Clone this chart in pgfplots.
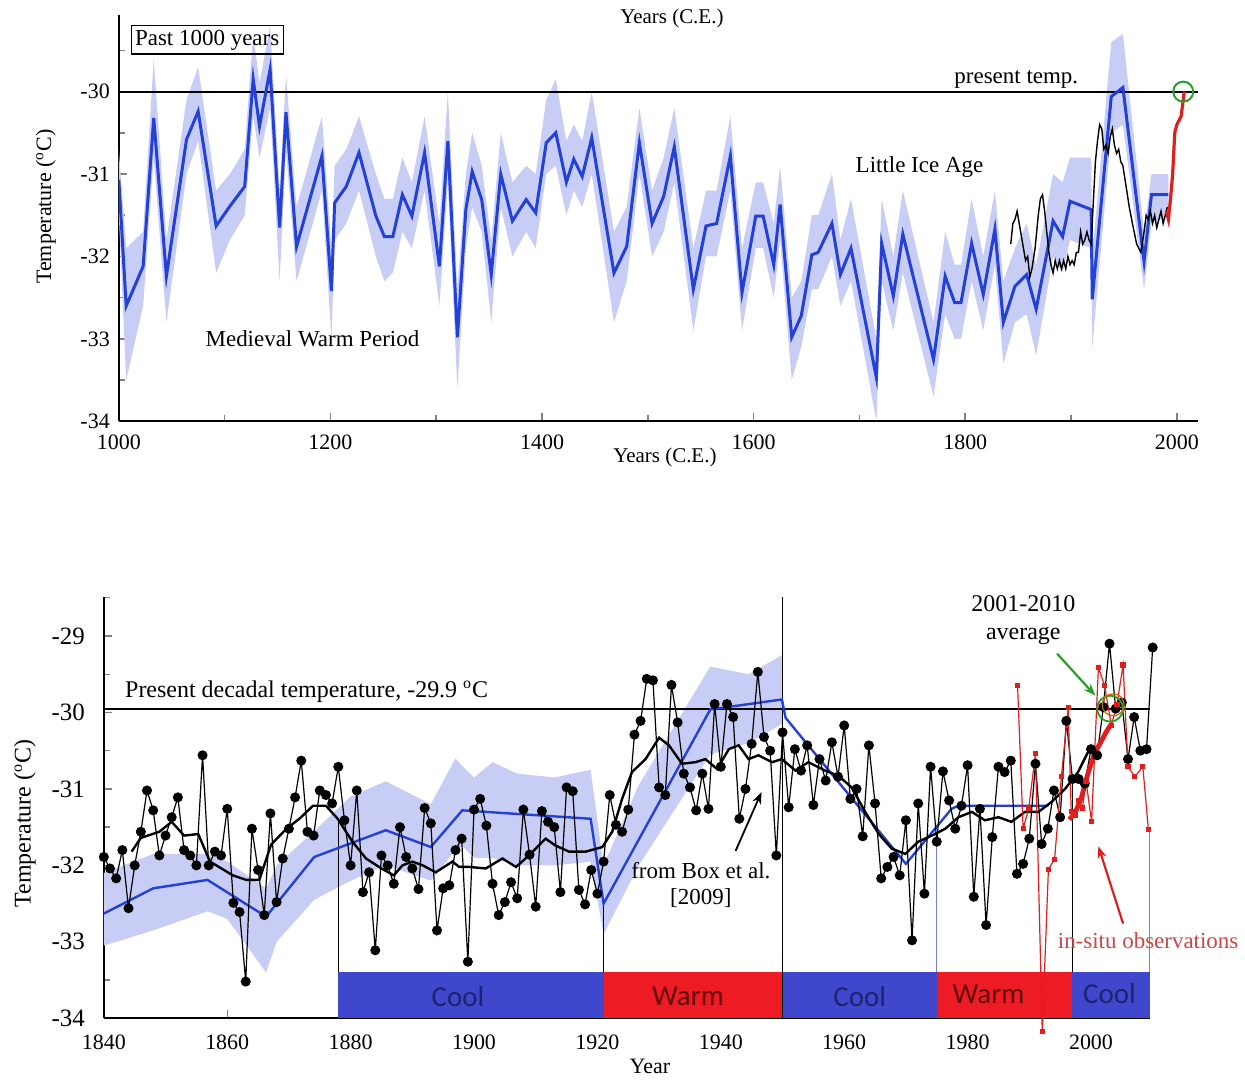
\documentclass[border=0pt]{standalone}
\usepackage{fontspec}
\setmainfont{Liberation Serif}
\newfontfamily\calib{Carlito}
\usepackage{pgfplots}
\usepackage{pgfplotstable}
\pgfplotsset{compat=1.18}
\usepgfplotslibrary{fillbetween}
\usetikzlibrary{arrows.meta}

\definecolor{bline}{RGB}{35,65,215}
\definecolor{bband}{RGB}{200,205,245}
\definecolor{coolc}{RGB}{63,72,204}
\definecolor{warmc}{RGB}{237,28,36}
\definecolor{cooltxt}{RGB}{30,35,110}
\definecolor{warmtxt}{RGB}{100,10,10}
\definecolor{redl}{RGB}{225,30,30}
\definecolor{insitu}{RGB}{205,70,70}
\definecolor{grn}{RGB}{40,160,40}
\definecolor{dropc}{RGB}{120,130,200}

% ---------- top panel: past 1000 years ----------
\pgfplotstableread{
year T lo hi
1000 -31.07 -31.5 -30.7
1007 -32.60 -33.5 -31.9
1023 -32.12 -32.6 -31.7
1033 -30.32 -30.8 -29.6
1045 -32.24 -32.8 -31.8
1064 -30.58 -31.0 -30.1
1075 -30.24 -30.6 -29.7
1092 -31.63 -32.2 -31.2
1105 -31.39 -31.8 -31.0
1119 -31.15 -31.5 -30.7
1127 -29.85 -30.3 -29.3
1133 -30.42 -30.8 -29.9
1143 -29.73 -30.2 -29.2
1152 -31.65 -32.3 -31.2
1158 -30.25 -30.7 -29.8
1168 -31.88 -32.3 -31.4
1192 -30.78 -31.2 -30.3
1201 -32.42 -33.0 -31.9
1204 -31.35 -31.8 -30.9
1215 -31.15 -31.6 -30.7
1227 -30.74 -31.2 -30.3
1243 -31.51 -32.0 -31.0
1251 -31.76 -32.3 -31.3
1259 -31.76 -32.2 -31.3
1268 -31.25 -31.7 -30.8
1277 -31.51 -31.9 -31.1
1289 -30.74 -31.2 -30.3
1303 -32.12 -32.6 -31.6
1311 -30.60 -31.1 -30.0
1320 -32.98 -33.6 -32.4
1328 -31.43 -31.9 -31.0
1334 -30.97 -31.4 -30.5
1343 -31.31 -31.7 -30.9
1352 -32.22 -32.8 -31.8
1361 -31.00 -31.4 -30.5
1372 -31.57 -32.0 -31.1
1385 -31.31 -31.7 -30.9
1394 -31.47 -31.9 -31.0
1404 -30.62 -31.0 -30.1
1413 -30.50 -30.9 -29.85
1423 -31.10 -31.5 -30.6
1430 -30.82 -31.2 -30.4
1438 -31.03 -31.4 -30.6
1447 -30.56 -31.0 -30.0
1468 -32.20 -32.8 -31.7
1480 -31.88 -32.3 -31.4
1492 -30.62 -31.0 -30.2
1504 -31.60 -32.0 -31.2
1515 -31.27 -31.7 -30.8
1525 -30.67 -31.1 -30.2
1543 -32.40 -32.9 -31.9
1555 -31.63 -32.0 -31.2
1565 -31.60 -32.0 -31.2
1578 -30.78 -31.2 -30.3
1589 -32.44 -32.9 -31.9
1602 -31.51 -31.9 -31.1
1609 -31.51 -31.9 -31.1
1619 -32.10 -32.5 -31.6
1625 -31.37 -31.8 -30.9
1636 -32.98 -33.5 -32.5
1645 -32.72 -33.1 -32.3
1655 -31.98 -32.4 -31.5
1661 -31.95 -32.4 -31.5
1674 -31.60 -32.0 -31.0
1682 -32.22 -32.6 -31.8
1692 -31.90 -32.3 -31.3
1716 -33.47 -34.0 -33.0
1721 -31.84 -32.3 -31.3
1732 -32.48 -32.9 -32.0
1741 -31.73 -32.2 -31.2
1770 -33.25 -33.7 -32.8
1781 -32.24 -32.7 -31.7
1790 -32.56 -33.0 -32.1
1796 -32.56 -33.0 -32.1
1806 -31.84 -32.3 -31.3
1817 -32.46 -32.9 -32.0
1828 -31.67 -32.1 -31.2
1836 -32.80 -33.3 -32.3
1847 -32.36 -32.8 -31.9
1858 -32.22 -32.7 -31.6
1867 -32.64 -33.2 -32.1
1883 -31.57 -32.0 -31.0
1892 -31.76 -32.2 -31.1
1899 -31.33 -31.8 -30.8
1919 -31.43 -31.9 -30.8
1920 -32.52 -33.1 -32.0
1938 -30.06 -30.5 -29.4
1949 -29.95 -30.4 -29.3
1969 -32.06 -32.4 -31.7
1976 -31.25 -31.6 -31.0
1992 -31.25 -31.5 -31.0
}\topdata

\pgfplotstableread{
year T
1843 -31.85
1845 -31.60
1847 -31.55
1849 -31.45
1851 -31.60
1853 -31.75
1855 -31.90
1857 -32.05
1859 -32.00
1861 -32.25
1863 -32.15
1866 -31.90
1869 -31.50
1871 -31.30
1873 -31.25
1875 -31.45
1877 -31.70
1879 -31.95
1881 -32.10
1883 -32.20
1885 -32.05
1887 -32.15
1889 -32.05
1891 -32.15
1893 -32.05
1895 -32.15
1897 -32.00
1899 -32.10
1901 -32.05
1903 -32.10
1905 -31.95
1907 -31.95
1909 -31.70
1911 -31.85
1913 -31.80
1915 -31.70
1917 -31.80
1919 -31.85
1921 -31.35
1923 -30.85
1925 -30.60
1927 -30.40
1929 -30.45
1931 -30.70
1933 -30.65
1935 -30.75
1937 -30.55
1939 -30.45
1941 -30.65
1943 -30.75
1945 -30.70
1947 -30.85
1949 -30.90
1952 -31.15
1955 -31.40
1958 -31.60
1962 -31.85
1966 -31.95
1969 -31.70
1971 -31.50
1973 -31.55
1975 -31.45
1977 -31.60
1979 -31.50
1981 -31.65
1983 -31.55
1985 -31.45
1987 -31.60
1989 -31.50
1991 -31.40
}\topblack

\pgfplotstableread{
year T
1990 -31.45
1992 -31.55
1994 -31.30
1996 -31.00
1998 -30.50
2000 -30.40
2002 -30.35
2004 -30.30
2006 -30.10
2007 -30.00
}\topred

% ---------- bottom panel ----------
\pgfplotstableread{
year T
1840 -31.89
1841 -32.04
1842 -32.17
1843 -31.80
1844 -32.56
1845 -32.00
1846 -31.56
1847 -31.02
1848 -31.28
1849 -31.87
1850 -31.61
1851 -31.37
1852 -31.11
1853 -31.80
1854 -31.87
1855 -32.00
1856 -30.56
1857 -32.00
1858 -31.82
1859 -31.87
1860 -31.26
1861 -32.49
1862 -32.61
1863 -33.52
1864 -31.52
1865 -32.06
1866 -32.65
1867 -31.32
1868 -32.48
1869 -31.91
1870 -31.52
1871 -31.11
1872 -30.63
1873 -31.56
1874 -31.61
1875 -31.02
1876 -31.08
1877 -31.19
1878 -30.71
1879 -31.41
1880 -32.00
1881 -31.02
1882 -32.35
1883 -32.09
1884 -33.11
1885 -31.87
1886 -32.00
1887 -32.24
1888 -31.50
1889 -31.89
1890 -32.04
1891 -32.31
1892 -31.25
1893 -31.45
1894 -32.85
1895 -32.30
1896 -32.26
1897 -31.80
1898 -31.65
1899 -33.26
1900 -31.27
1901 -31.13
1902 -31.48
1903 -32.24
1904 -32.65
1905 -32.48
1906 -32.22
1907 -32.43
1908 -31.27
1909 -31.86
1910 -32.54
1911 -31.29
1912 -31.43
1913 -31.50
1914 -32.35
1915 -30.98
1916 -31.03
1917 -32.32
1918 -32.51
1919 -32.06
1920 -32.37
1921 -31.95
1922 -31.08
1923 -31.47
1924 -31.56
1925 -31.27
1926 -30.29
1927 -30.11
1928 -29.56
1929 -29.58
1930 -30.98
1931 -31.08
1932 -29.64
1933 -30.13
1934 -30.80
1935 -30.98
1936 -31.28
1937 -30.80
1938 -31.26
1939 -29.89
1940 -30.71
1941 -29.89
1942 -30.06
1943 -31.39
1944 -31.00
1945 -30.41
1946 -29.47
1947 -30.32
1948 -30.50
1949 -31.87
1950 -30.26
1951 -31.24
1952 -30.48
1953 -30.76
1954 -30.43
1955 -31.21
1956 -30.61
1957 -30.89
1958 -30.39
1959 -30.84
1960 -30.17
1961 -31.13
1962 -31.00
1963 -31.62
1964 -30.43
1965 -31.19
1966 -32.17
1967 -32.02
1968 -31.89
1969 -32.13
1970 -31.41
1971 -32.98
1972 -31.19
1973 -32.37
1974 -30.71
1975 -31.69
1976 -30.77
1977 -31.15
1978 -31.52
1979 -31.22
1980 -30.69
1981 -32.41
1982 -31.26
1983 -32.78
1984 -31.63
1985 -30.71
1986 -30.78
1987 -30.63
1988 -32.11
1989 -31.98
1990 -31.65
1991 -30.67
1992 -31.72
1993 -31.52
1994 -31.02
1995 -31.37
1996 -30.11
1997 -30.87
1998 -30.87
1999 -30.93
2000 -30.48
2001 -30.56
2002 -29.93
2003 -29.10
2004 -29.95
2005 -29.87
2006 -30.61
2007 -30.06
2008 -30.50
2009 -30.48
2010 -29.15
}\annual

\pgfplotstableread{
year T
1844.5 -31.82
1846 -31.64
1849 -31.56
1851 -31.43
1853 -31.61
1855.3 -31.59
1857.2 -31.95
1860.9 -32.13
1863.1 -32.19
1865.2 -32.19
1867.1 -31.73
1869.6 -31.52
1871.7 -31.39
1873.9 -31.22
1876 -31.22
1877.9 -31.39
1880.3 -31.69
1882.5 -31.91
1885 -32.04
1887 -32.13
1888.4 -32.00
1890 -31.95
1891.7 -32.00
1893.8 -32.09
1896.5 -31.95
1897.6 -32.02
1899.2 -32.02
1901.9 -32.04
1904.6 -31.91
1906.8 -32.02
1908.9 -31.87
1911.6 -31.65
1913.2 -31.74
1915.4 -31.82
1918.1 -31.82
1920.8 -31.76
1922.4 -31.56
1924 -31.13
1925.6 -30.78
1927.8 -30.61
1930 -30.33
1931.6 -30.43
1933.7 -30.67
1935.9 -30.65
1937.5 -30.61
1939.4 -30.74
1941.3 -30.48
1942.9 -30.43
1944.5 -30.61
1946.1 -30.56
1948.3 -30.65
1949.9 -30.61
1952.1 -30.76
1954.2 -30.65
1956.9 -30.76
1959.1 -30.83
1961.2 -30.98
1963.4 -31.30
1965.6 -31.59
1967.7 -31.78
1969.9 -31.85
1972 -31.69
1974.2 -31.61
1976.4 -31.52
1978.5 -31.37
1980.7 -31.30
1982.8 -31.41
1985 -31.37
1987.1 -31.43
1989.3 -31.30
1991.5 -31.30
1993.6 -31.17
1995.8 -31.00
1997.9 -30.78
1999.5 -30.52
}\smooth

\pgfplotstableread{
year T
1840 -32.63
1848 -32.30
1856.8 -32.19
1866.3 -32.67
1874.1 -31.89
1885.7 -31.54
1893 -31.76
1898.1 -31.28
1918.9 -31.39
1921 -32.50
1938.3 -29.96
1949.9 -29.83
1950.5 -30.07
1956 -30.61
1970 -31.98
1977.4 -31.26
1978.5 -31.22
1993.1 -31.22
}\decadal

\pgfplotstableread{
year lo hi
1840 -33.05 -32.10
1848 -32.85 -31.85
1856.8 -32.60 -31.85
1860 -32.70 -31.95
1866.3 -33.40 -32.30
1868 -33.00 -32.00
1874.1 -32.45 -31.55
1880 -32.20 -31.10
1885.7 -32.00 -30.90
1893 -32.20 -31.20
1897 -31.80 -30.60
1898.1 -31.75 -30.70
1900 -31.90 -30.85
1903 -31.90 -30.65
1907 -32.00 -30.80
1913 -32.00 -30.85
1918.9 -31.95 -30.75
1921 -32.90 -32.00
1926.7 -32.00 -30.95
1938.3 -30.55 -29.40
1944.5 -30.40 -29.50
1949.9 -30.15 -29.25
}\decband

\pgfplotstableread{
year T
1988.1 -29.65
1989.0 -31.52
1989.9 -31.26
1991.0 -30.54
1992.1 -34.17
1993.1 -32.05
1994.1 -31.92
1995.2 -30.84
1996.3 -29.94
1996.8 -31.30
1997.5 -31.35
1998.0 -31.15
1998.6 -31.25
1999.2 -30.90
2000.1 -31.43
2001.2 -29.41
2002.2 -29.65
2003.3 -30.17
2004.2 -29.90
2005.2 -29.38
2006.0 -30.71
2007.1 -30.84
2008.4 -30.71
2009.3 -31.53
}\insitu

\pgfplotstableread{
year T
1996.5 -31.40
1997.5 -31.30
1998.5 -31.10
1999.5 -30.80
2000.5 -30.55
2001.5 -30.40
2002.5 -30.25
2003.3 -30.15
}\insitusmooth

\pgfplotstableread{
year lo hi
1878 -34 -33.4
1921 -34 -33.4
}\barA
\pgfplotstableread{
year lo hi
1921 -34 -33.4
1950 -34 -33.4
}\barB
\pgfplotstableread{
year lo hi
1950 -34 -33.4
1975 -34 -33.4
}\barC
\pgfplotstableread{
year lo hi
1975 -34 -33.4
1997 -34 -33.4
}\barD
\pgfplotstableread{
year lo hi
1997 -34 -33.4
2009.5 -34 -33.4
}\barE

\begin{document}
\begin{tikzpicture}
\path (0,0) rectangle (622.5pt,539pt);

% ===================== TOP =====================
\begin{axis}[
  at={(59.5pt,328pt)}, anchor=south west, scale only axis,
  width=540.5pt, height=203.5pt,
  xmin=1000, xmax=2020, ymin=-34, ymax=-29.07,
  axis x line*=bottom, axis y line*=left,
  axis line style={line width=1pt},
  xtick={1000,1200,1400,1600,1800,2000},
  minor xtick={1100,1300,1500,1700,1900},
  ytick={-34,-33,-32,-31,-30},
  minor ytick={-33.5,-32.5,-31.5,-30.5,-29.5},
  tick align=inside, major tick length=4pt, minor tick length=3pt,
  tick style={line width=0.8pt},
  /pgf/number format/assume math mode=true,
  /pgf/number format/1000 sep={},
  xticklabel style={font=\fontsize{11}{13}\selectfont, yshift=-3.5pt},
  yticklabel style={font=\fontsize{11}{13}\selectfont, xshift=-1pt},
]
\addplot[name path=tu, draw=none, forget plot] table[x=year,y=hi]{\topdata};
\addplot[name path=tl, draw=none, forget plot] table[x=year,y=lo]{\topdata};
\addplot[bband, draw=none] fill between[of=tu and tl];
\addplot[black, line width=0.9pt] coordinates {(1000,-30) (2020,-30)};
\addplot[bline, line width=1.5pt] table[x=year,y=T]{\topdata};
\addplot[black, line width=0.7pt] table[x=year,y=T]{\topblack};
\addplot[redl, line width=1.6pt] table[x=year,y=T]{\topred};
\addplot[grn, line width=1pt, only marks, mark=o, mark size=5pt] coordinates {(2006,-30)};
\end{axis}

\node[draw=black, line width=0.6pt, inner sep=2pt, font=\fontsize{11.5}{13}\selectfont] at (103.75pt,519pt) {Past 1000 years};
\node[font=\fontsize{10.5}{12}\selectfont] at (336.5pt,530pt) {Years (C.E.)};
\node[font=\fontsize{10.5}{12}\selectfont] at (333pt,310pt) {Years (C.E.)};
\node[font=\fontsize{11.5}{13}\selectfont] at (509pt,499pt) {present temp.};
\node[font=\fontsize{11.5}{13}\selectfont] at (460.5pt,455.5pt) {Little Ice Age};
\node[font=\fontsize{11.5}{13}\selectfont] at (156.5pt,369.5pt) {Medieval Warm Period};
\node[rotate=90, font=\fontsize{11}{13}\selectfont] at (23pt,435.5pt) {Temperature (\textsuperscript{o}C)};

% ===================== BOTTOM =====================
\begin{axis}[
  at={(52pt,29pt)}, anchor=south west, scale only axis,
  width=523.75pt, height=211pt,
  xmin=1840, xmax=2009.5, ymin=-34, ymax=-28.49,
  clip=false,
  axis x line*=bottom, axis y line*=left,
  axis line style={line width=0.9pt},
  xtick={1840,1860,1880,1900,1920,1940,1960,1980,2000},
  ytick={-34,-33,-32,-31,-30,-29},
  minor ytick={-33.5,-32.5,-31.5,-30.5,-29.5,-28.5},
  tick align=inside, major tick length=4pt, minor tick length=3pt,
  tick style={line width=0.7pt},
  /pgf/number format/assume math mode=true,
  /pgf/number format/1000 sep={},
  xticklabel style={font=\fontsize{11}{13}\selectfont, yshift=-5pt},
  yticklabel style={font=\fontsize{12.5}{14}\selectfont, xshift=-6pt},
]
\addplot[name path=du, draw=none, forget plot] table[x=year,y=hi]{\decband};
\addplot[name path=dl, draw=none, forget plot] table[x=year,y=lo]{\decband};
\addplot[bband, draw=none] fill between[of=du and dl];

% period bars
\addplot[name path=a1, draw=none, forget plot] table[x=year,y=hi]{\barA};
\addplot[name path=a2, draw=none, forget plot] table[x=year,y=lo]{\barA};
\addplot[coolc, draw=none] fill between[of=a1 and a2];
\addplot[name path=b1, draw=none, forget plot] table[x=year,y=hi]{\barB};
\addplot[name path=b2, draw=none, forget plot] table[x=year,y=lo]{\barB};
\addplot[warmc, draw=none] fill between[of=b1 and b2];
\addplot[name path=c1, draw=none, forget plot] table[x=year,y=hi]{\barC};
\addplot[name path=c2, draw=none, forget plot] table[x=year,y=lo]{\barC};
\addplot[coolc, draw=none] fill between[of=c1 and c2];
\addplot[name path=d1, draw=none, forget plot] table[x=year,y=hi]{\barD};
\addplot[name path=d2, draw=none, forget plot] table[x=year,y=lo]{\barD};
\addplot[warmc, draw=none] fill between[of=d1 and d2];
\addplot[name path=e1, draw=none, forget plot] table[x=year,y=hi]{\barE};
\addplot[name path=e2, draw=none, forget plot] table[x=year,y=lo]{\barE};
\addplot[coolc, draw=none] fill between[of=e1 and e2];

% drop lines
\addplot[black, line width=0.5pt] coordinates {(1878,-33.4) (1878,-31.4)};
\addplot[black, line width=0.5pt] coordinates {(1921,-33.4) (1921,-32.5)};
\addplot[dropc, line width=0.5pt] coordinates {(1975,-33.4) (1975,-31.65)};
\addplot[black, line width=0.5pt] coordinates {(1997,-33.4) (1997,-30.85)};
\addplot[dropc, line width=0.5pt] coordinates {(2009.5,-33.4) (2009.5,-31.5)};
\addplot[black, line width=0.8pt] coordinates {(1950,-34) (1950,-28.49)};
\addplot[black, line width=0.9pt] coordinates {(1840,-29.95) (2009.5,-29.95)};

\addplot[bline, line width=1.2pt] table[x=year,y=T]{\decadal};
\addplot[black, line width=1.2pt] table[x=year,y=T]{\smooth};
\addplot[black, line width=0.6pt, mark=*, mark size=2.2pt, mark options={fill=black}] table[x=year,y=T]{\annual};
\addplot[redl, line width=0.6pt, mark=square*, mark size=1pt] table[x=year,y=T]{\insitu};
\addplot[redl, line width=2.4pt] table[x=year,y=T]{\insitusmooth};

\addplot[grn, line width=0.9pt, only marks, mark=o, mark size=6.5pt] coordinates {(2003.1,-29.95)};
\addplot[orange!80!black, line width=0.6pt, only marks, mark=o, mark size=5.5pt] coordinates {(2003.6,-29.9)};

% arrows
\draw[-{Stealth[length=6pt]}, line width=0.9pt] (axis cs:1942.4,-31.81) -- (axis cs:1946.6,-31.04);
\draw[-{Stealth[length=6pt]}, line width=1.1pt, grn] (axis cs:1994.5,-29.23) -- (axis cs:2000.7,-29.78);
\draw[-{Stealth[length=6pt]}, line width=1.1pt, redl] (axis cs:2005.2,-32.76) -- (axis cs:2001.2,-31.75);

% bar labels
\node[font=\calib\fontsize{14.5}{16}\selectfont, text=cooltxt] at (axis cs:1897.4,-33.71) {Cool};
\node[font=\calib\fontsize{14.5}{16}\selectfont, text=warmtxt] at (axis cs:1934.7,-33.71) {Warm};
\node[font=\calib\fontsize{14.5}{16}\selectfont, text=cooltxt] at (axis cs:1962.5,-33.71) {Cool};
\node[font=\calib\fontsize{14.5}{16}\selectfont, text=warmtxt] at (axis cs:1983.4,-33.68) {Warm};
\node[font=\calib\fontsize{14.5}{16}\selectfont, text=cooltxt] at (axis cs:2003,-33.68) {Cool};
\end{axis}

\node[anchor=west, font=\fontsize{12}{14}\selectfont, inner sep=0pt] at (62.5pt,192.5pt) {Present decadal temperature, -29.9 \textsuperscript{o}C};
\node[font=\fontsize{12}{14}\selectfont] at (512.5pt,236.5pt) {2001-2010};
\node[font=\fontsize{12}{14}\selectfont] at (512.5pt,220.5pt) {average};
\node[font=\fontsize{11.5}{13}\selectfont] at (351pt,103pt) {from Box et al.};
\node[font=\fontsize{11.5}{13}\selectfont] at (351pt,89pt) {[2009]};
\node[font=\fontsize{11.5}{13}\selectfont, text=insitu] at (575pt,68pt) {in-situ observations};
\node[font=\fontsize{11}{13}\selectfont] at (325.5pt,5pt) {Year};
\node[rotate=90, font=\fontsize{12}{14}\selectfont] at (12.5pt,126.5pt) {Temperature (\textsuperscript{o}C)};
\end{tikzpicture}
\end{document}
